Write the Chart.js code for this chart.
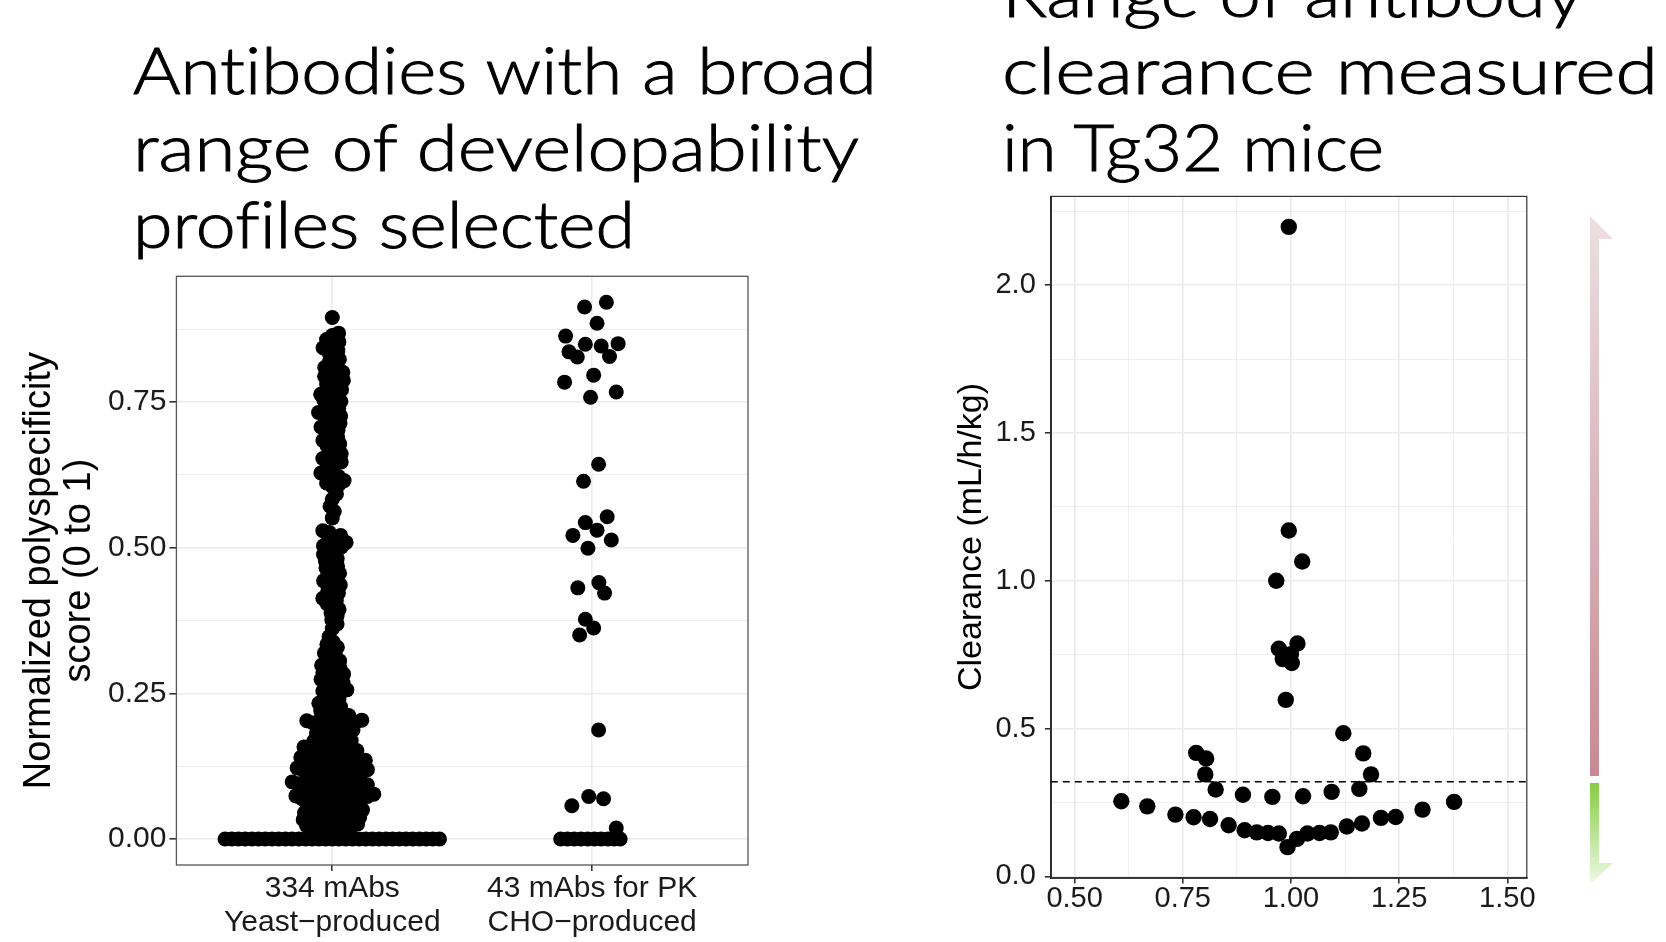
<!DOCTYPE html>
<html><head><meta charset="utf-8">
<script src="https://cdn.jsdelivr.net/npm/chart.js"></script>
<style>
html,body{margin:0;padding:0;background:#fff;}
body{width:1666px;height:942px;position:relative;overflow:hidden;}
#deco{position:absolute;left:0;top:0;}
#c1{position:absolute;left:0;top:250px;width:780px;height:692px;}
#c2{position:absolute;left:880px;top:170px;width:670px;height:772px;}
.ttl{font-family:Lato,'Open Sans',sans-serif;font-weight:300;font-size:66px;fill:#000;stroke:#000;stroke-width:1;font-variant-ligatures:none;font-feature-settings:"liga" 0,"clig" 0;}
</style></head><body>
<svg id="deco" width="1666" height="942">
 <defs>
  <linearGradient id="gPink" x1="0" y1="0" x2="0" y2="1">
   <stop offset="0" stop-color="#ecdfe2"/><stop offset="1" stop-color="#c88a94"/>
  </linearGradient>
  <linearGradient id="gGreen" x1="0" y1="0" x2="0" y2="1">
   <stop offset="0" stop-color="#86cc45"/><stop offset="1" stop-color="#eef9e6"/>
  </linearGradient>
 </defs>
 <text class="ttl" x="133" y="93.5" textLength="744" lengthAdjust="spacingAndGlyphs">Antibodies with a broad</text>
 <text class="ttl" x="133" y="170.5" textLength="726" lengthAdjust="spacingAndGlyphs">range of developability</text>
 <text class="ttl" x="133" y="247.5" textLength="502" lengthAdjust="spacingAndGlyphs">profiles selected</text>
 <text class="ttl" x="1002" y="16.5" textLength="581" lengthAdjust="spacingAndGlyphs">Range of antibody</text>
 <text class="ttl" x="1002" y="93.5" textLength="656" lengthAdjust="spacingAndGlyphs">clearance measured</text>
 <text class="ttl" x="1002" y="170.5" textLength="382" lengthAdjust="spacingAndGlyphs">in Tg32 mice</text>
 <polygon points="1590,216 1613,239 1599,239 1599,776 1590,776" fill="url(#gPink)"/>
 <polygon points="1590,783 1599,783 1599,863 1613,863 1590,884" fill="url(#gGreen)"/>
</svg>
<canvas id="c1" width="780" height="692"></canvas>
<canvas id="c2" width="670" height="772"></canvas>
<script>
// ---------------- DATA ----------------
const groupLabels = [["334 mAbs", "Yeast\u2212produced"], ["43 mAbs for PK", "CHO\u2212produced"]];

// polyspecificity scores, 334 yeast-produced mAbs
const yeastScores = [
 0.895, 0.868, 0.864, 0.857, 0.853, 0.851, 0.843, 0.838, 0.836, 0.829, 0.823, 0.82, 0.814, 0.809, 0.805, 0.801,
 0.798, 0.794, 0.791, 0.787, 0.785, 0.781, 0.776, 0.771, 0.768, 0.763, 0.762, 0.758, 0.753, 0.751, 0.748,
 0.744, 0.739, 0.735, 0.732, 0.728, 0.726, 0.723, 0.718, 0.713, 0.709, 0.707, 0.702, 0.699, 0.696,
 0.689, 0.684, 0.682, 0.678, 0.675, 0.671, 0.664, 0.661, 0.658, 0.653, 0.651, 0.647, 0.644, 0.64,
 0.633, 0.628, 0.626, 0.622, 0.618, 0.615, 0.611, 0.608, 0.605,
 0.592, 0.583, 0.571, 0.562, 0.551,
 0.529, 0.526, 0.521, 0.518, 0.513, 0.509, 0.506, 0.503, 0.501,
 0.497, 0.493, 0.488, 0.486, 0.481, 0.477, 0.474, 0.468, 0.465, 0.461, 0.456, 0.452, 0.449, 0.443, 0.44,
 0.436, 0.431, 0.427, 0.422, 0.418, 0.413, 0.409, 0.404, 0.399, 0.394, 0.388, 0.383, 0.376, 0.369, 0.361,
 0.347, 0.338, 0.334, 0.329, 0.325, 0.319, 0.316, 0.311, 0.306, 0.302,
 0.298, 0.295, 0.293, 0.289, 0.286, 0.283, 0.281, 0.278, 0.274, 0.271, 0.268, 0.265, 0.262, 0.259, 0.256, 0.254, 0.251,
 0.249, 0.245, 0.24, 0.238, 0.233, 0.231, 0.227, 0.225, 0.22, 0.218, 0.216,
 0.212, 0.21, 0.209, 0.206, 0.204, 0.203, 0.202, 0.201, 0.2,
 0.199, 0.197, 0.195, 0.193, 0.192, 0.189, 0.187, 0.186, 0.183, 0.181, 0.18, 0.177,
 0.175, 0.174, 0.171, 0.169, 0.168, 0.165, 0.163, 0.162, 0.16, 0.158, 0.156, 0.155, 0.154,
 0.152, 0.151,
 0.149, 0.148, 0.147, 0.145, 0.143, 0.142, 0.141, 0.14, 0.139, 0.138, 0.137, 0.135, 0.134, 0.133, 0.132,
 0.131, 0.13, 0.128, 0.127, 0.126, 0.125, 0.124, 0.123, 0.122, 0.121, 0.12, 0.119, 0.118, 0.117, 0.116,
 0.115, 0.114, 0.112, 0.111, 0.11, 0.109, 0.108, 0.106, 0.105, 0.104, 0.102, 0.101,
 0.099, 0.098, 0.097, 0.096, 0.095, 0.094, 0.093, 0.092, 0.091, 0.09, 0.089, 0.088, 0.087, 0.086, 0.084, 0.083,
 0.082, 0.081, 0.08, 0.079, 0.078, 0.077, 0.076, 0.075, 0.074, 0.073, 0.073, 0.072, 0.071, 0.07,
 0.069, 0.068, 0.066, 0.065, 0.064, 0.063, 0.061, 0.06, 0.058, 0.057, 0.056, 0.055, 0.053, 0.052, 0.05, 0.049,
 0.048, 0.046, 0.045, 0.044, 0.043, 0.042, 0.04, 0.039, 0.037, 0.036, 0.035, 0.033, 0.032, 0.03, 0.03, 0.028,
 0.027, 0.026, 0.024, 0.023, 0.021, 0.02, 0.019, 0.019, 0.017, 0.015, 0.012,
 0, 0, 0, 0, 0, 0, 0, 0, 0, 0, 0, 0, 0, 0, 0, 0, 0, 0, 0, 0, 0, 0, 0, 0, 0, 0, 0, 0, 0, 0, 0, 0, 0
];

// polyspecificity scores, 43 CHO-produced mAbs used for PK, and their swarm offsets
const choScores = [0.921, 0.913, 0.885, 0.863, 0.849, 0.846, 0.85, 0.836, 0.827, 0.828, 0.796, 0.784, 0.767, 0.758,
 0.643, 0.614, 0.553, 0.543, 0.53, 0.521, 0.513, 0.499, 0.431, 0.44, 0.422, 0.377, 0.362, 0.35, 0.187,
 0.057, 0.073, 0.069, 0.019, 0, 0, 0, 0, 0, 0, 0, 0, 0, 0];
const choJitter = [0.055, -0.029, 0.019, -0.102, -0.026, 0.035, 0.1, -0.089, -0.057, 0.067, 0.006, -0.106, 0.093, -0.006,
 0.025, -0.033, 0.058, -0.026, 0.019, -0.074, 0.074, -0.016, -0.055, 0.026, 0.048, -0.026, 0.006, -0.048, 0.025,
 -0.078, -0.013, 0.044, 0.093, -0.121, -0.095, -0.069, -0.043, -0.017, 0.009, 0.035, 0.061, 0.085, 0.108];

const leftYTicks = [0, 0.125, 0.25, 0.375, 0.5, 0.625, 0.75, 0.875];

// Tg32 clearance (mL/h/kg) and swarm x position
const clearanceX = [0.995, 0.995, 1.026, 0.966, 0.972, 1.015, 0.981, 1.002, 0.988, 1.121, 0.781, 0.804, 0.802,
 1.167, 1.185, 0.826, 0.889, 0.957, 1.028, 1.094, 1.158, 0.608, 0.668, 0.733, 0.775, 0.813, 0.856, 0.893,
 0.921, 0.947, 0.972, 0.992, 1.014, 1.038, 1.066, 1.092, 1.129, 1.164, 1.208, 1.242, 1.304, 1.377, 1.0];
const clearanceY = [2.197, 1.17, 1.065, 1.0, 0.77, 0.788, 0.735, 0.722, 0.597, 0.484, 0.418, 0.399, 0.345,
 0.416, 0.345, 0.294, 0.276, 0.269, 0.271, 0.286, 0.296, 0.254, 0.237, 0.209, 0.2, 0.194, 0.173, 0.156,
 0.149, 0.147, 0.145, 0.099, 0.127, 0.145, 0.147, 0.149, 0.169, 0.179, 0.198, 0.201, 0.226, 0.252, 0.752];
const clearanceCutoff = 0.32;
const rightXTicks = [0.5, 0.625, 0.75, 0.875, 1.0, 1.125, 1.25, 1.375, 1.5];
const rightYTicks = [0, 0.25, 0.5, 0.75, 1.0, 1.25, 1.5, 1.75, 2.0, 2.25];

// ---------------- LAYOUT HELPERS ----------------
const FONT = "'Liberation Sans', Arial, Helvetica, sans-serif";
Chart.defaults.font.family = FONT;
Chart.defaults.color = '#1a1a1a';

// beeswarm layout (ascending priority) in pixel space
function swarmOffsets(values, spacing, pxPerY, pxPerX) {
  const order = values.map((v, i) => i).sort((a, b) => values[a] - values[b]);
  const placed = [];
  const res = new Array(values.length).fill(0);
  const s2 = spacing * spacing;
  for (const i of order) {
    const y = values[i] * pxPerY;
    const near = placed.filter(p => y - p.y < spacing);
    const cands = [0];
    near.forEach(p => {
      const dy = y - p.y;
      const dx = Math.sqrt(Math.max(s2 - dy * dy, 0));
      cands.push(p.x + dx, p.x - dx);
    });
    cands.sort((a, b) => (Math.abs(a) - Math.abs(b)) || (b - a));
    let xs = 0;
    for (const c of cands) {
      if (near.every(p => (c - p.x) * (c - p.x) + (y - p.y) * (y - p.y) >= s2 - 1e-6)) { xs = c; break; }
    }
    placed.push({x: xs, y});
    res[i] = xs / pxPerX;
  }
  return res;
}

const isMult = (v, step) => Math.abs(v / step - Math.round(v / step)) < 1e-6;

const panelBox = {
  id: 'panelBox',
  afterDraw(chart, args, opts) {
    const {ctx, chartArea: a} = chart;
    ctx.save();
    ctx.strokeStyle = opts.color;
    ctx.lineWidth = opts.width;
    ctx.strokeRect(a.left, a.top, a.right - a.left, a.bottom - a.top);
    ctx.restore();
  }
};

// ---------------- LEFT CHART ----------------
const L_MIN = -0.0446, L_MAX = 0.9656;
const yeastOff = swarmOffsets(yeastScores, 6.7, 583, 259.8);

new Chart(document.getElementById('c1'), {
  type: 'scatter',
  data: {
    datasets: [
      {data: yeastScores.map((v, i) => ({x: 1 + yeastOff[i], y: v})), backgroundColor: '#000', pointRadius: 7.5, borderWidth: 0, pointHoverRadius: 7.5},
      {data: choScores.map((v, i) => ({x: 2 + choJitter[i], y: v})), backgroundColor: '#000', pointRadius: 7.5, borderWidth: 0, pointHoverRadius: 7.5}
    ]
  },
  options: {
    responsive: false, animation: false, events: [],
    layout: {padding: {left: 0, top: 26.3, right: 32, bottom: 0}},
    plugins: {legend: {display: false}, tooltip: {enabled: false}, panelBox: {color: '#555', width: 1.3}},
    scales: {
      x: {
        type: 'linear', min: 0.4, max: 2.6,
        afterBuildTicks: s => { s.ticks = [{value: 1}, {value: 2}]; },
        afterFit: s => { s.height = 77; },
        ticks: {callback: v => groupLabels[Math.round(v) - 1], font: {size: 30, lineHeight: 1.12}, color: '#1a1a1a', padding: 1, maxRotation: 0, autoSkip: false},
        grid: {color: '#ebebeb', lineWidth: 1.6, tickColor: '#333', tickLength: 6, drawTicks: true},
        border: {display: false}
      },
      y: {
        min: L_MIN, max: L_MAX,
        afterBuildTicks: s => { s.ticks = leftYTicks.map(v => ({value: v})); },
        afterFit: s => { s.width = 176.4; },
        ticks: {callback: v => isMult(v, 0.25) ? v.toFixed(2) : '', font: {size: 30}, color: '#1a1a1a', padding: 3, autoSkip: false},
        grid: {
          color: '#ebebeb',
          lineWidth: c => isMult(c.tick.value, 0.25) ? 1.6 : 0.8,
          tickColor: c => isMult(c.tick.value, 0.25) ? '#333' : 'rgba(0,0,0,0)',
          tickLength: 7
        },
        border: {display: false},
        title: {display: true, text: ['Normalized polyspecificity', 'score (0 to 1)'], font: {size: 38, lineHeight: 1.05}, color: '#000', padding: {top: 20, bottom: 0}}
      }
    }
  },
  plugins: [panelBox]
});

// ---------------- RIGHT CHART ----------------
const R_XMIN = 0.445, R_XMAX = 1.545, R_YMIN = -0.004, R_YMAX = 2.30;

new Chart(document.getElementById('c2'), {
  type: 'scatter',
  data: {
    datasets: [
      {type: 'line', data: [{x: R_XMIN, y: clearanceCutoff}, {x: R_XMAX, y: clearanceCutoff}], borderColor: '#000', borderWidth: 1.5, borderDash: [7, 5], pointRadius: 0, fill: false},
      {data: clearanceY.map((v, i) => ({x: clearanceX[i], y: v})), backgroundColor: '#000', pointRadius: 8.2, borderWidth: 0, pointHoverRadius: 8.2}
    ]
  },
  options: {
    responsive: false, animation: false, events: [],
    layout: {padding: {left: 0, top: 25.5, right: 23.2, bottom: 0}},
    plugins: {legend: {display: false}, tooltip: {enabled: false}, panelBox: {color: '#333', width: 1.2}},
    scales: {
      x: {
        type: 'linear', min: R_XMIN, max: R_XMAX,
        afterBuildTicks: s => { s.ticks = rightXTicks.map(v => ({value: v})); },
        afterFit: s => { s.height = 64.4; },
        ticks: {callback: v => isMult(v, 0.25) ? v.toFixed(2) : '', font: {size: 29, lineHeight: 1.0}, color: '#1a1a1a', padding: 1, maxRotation: 0, autoSkip: false},
        grid: {
          color: '#ebebeb',
          lineWidth: c => isMult(c.tick.value, 0.25) ? 1.6 : 0.8,
          tickColor: c => isMult(c.tick.value, 0.25) ? '#333' : 'rgba(0,0,0,0)',
          tickLength: 6
        },
        border: {display: true, color: '#000', width: 1.8}
      },
      y: {
        min: R_YMIN, max: R_YMAX,
        afterBuildTicks: s => { s.ticks = rightYTicks.map(v => ({value: v})); },
        afterFit: s => { s.width = 170.8; },
        ticks: {callback: v => isMult(v, 0.5) ? v.toFixed(1) : '', font: {size: 29}, color: '#1a1a1a', padding: 9, autoSkip: false},
        grid: {
          color: '#ebebeb',
          lineWidth: c => isMult(c.tick.value, 0.5) ? 1.6 : 0.8,
          tickColor: c => isMult(c.tick.value, 0.5) ? '#333' : 'rgba(0,0,0,0)',
          tickLength: 6
        },
        border: {display: true, color: '#000', width: 1.8},
        title: {display: true, text: 'Clearance (mL/h/kg)', font: {size: 34, lineHeight: 1.15}, color: '#000', padding: {top: 72.5, bottom: 0}}
      }
    }
  },
  plugins: [panelBox]
});
</script>
</body></html>
